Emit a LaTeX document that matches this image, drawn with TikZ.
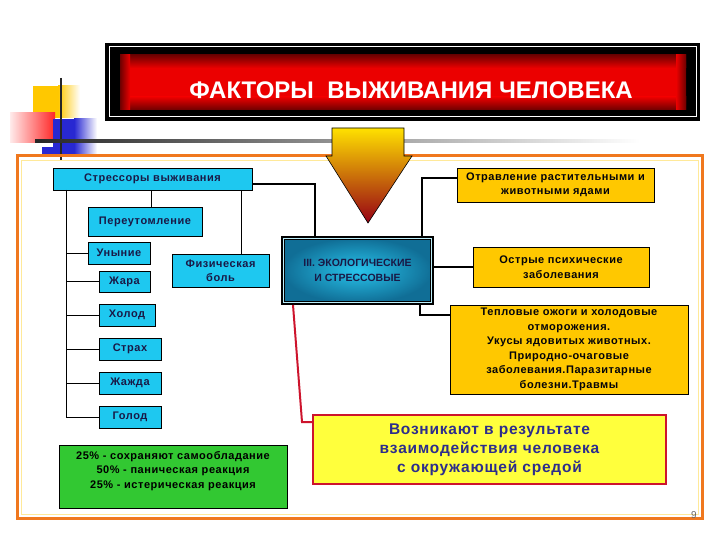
\documentclass[tikz,border=0pt]{standalone}
\usepackage{fontspec}
\setmainfont{Liberation Sans}
\newfontfamily\boxfont[LetterSpace=5]{Liberation Sans}
\usetikzlibrary{calc}
\definecolor{cy}{RGB}{30,200,240}
\definecolor{gold}{RGB}{255,200,0}
\definecolor{navy}{RGB}{25,25,70}
\definecolor{orfr}{RGB}{240,120,30}
\definecolor{grn}{RGB}{50,200,50}
\definecolor{yel}{RGB}{255,255,60}
\definecolor{vozblue}{RGB}{45,45,140}
\definecolor{crim}{RGB}{205,20,45}
\definecolor{bl}{RGB}{40,40,210}
\definecolor{ecoout}{RGB}{16,110,150}
\definecolor{ecoin}{RGB}{40,195,235}
\definecolor{tred}{RGB}{235,0,0}
\definecolor{tdark}{RGB}{110,0,0}
\tikzset{
  cbox/.style={draw=black, line width=0.8pt, fill=cy, inner sep=1pt, align=center,
    font=\boxfont\bfseries\fontsize{11}{14.5}\selectfont, text=navy},
  obox/.style={cbox, fill=gold, text=black!85!navy},
  link/.style={draw=black, line width=1pt},
}
\begin{document}
\begin{tikzpicture}[x=1pt,y=-1pt]
\useasboundingbox (0,0) rectangle (720,540);
\fill[white] (0,0) rectangle (720,540);

% decoration
\fill[gold] (33,86) rectangle (58,118);
\shade[left color=gold, right color=white] (58,86) rectangle (80,118);
\shade[left color=red!8, right color=red!85] (10,113) rectangle (55,143);
\fill[bl] (53,119) rectangle (74,155);
\fill[bl] (42,147) rectangle (60,155);
\shade[left color=bl, right color=white] (74,119) rectangle (97,155);
\draw[line width=1.8pt, black!85] (61,78) -- (61,160);
\shade[left color=black!85, right color=white] (35,139.5) rectangle (640,142.5);

% title
\fill[black] (105,43) rectangle (700,121);
\draw[white, line width=1pt] (109,47) rectangle (696,117);
\fill[tred] (120,55) rectangle (686,110);
\shade[top color=tdark, bottom color=tred] (120,55) rectangle (686,68);
\shade[top color=tred, bottom color=tdark] (120,97) rectangle (686,110);
\shade[left color=tdark, right color=tred] (120,55) rectangle (130,110);
\shade[left color=tred, right color=tdark] (676,55) rectangle (686,110);
\node[text=white, font=\bfseries\fontsize{24}{26}\selectfont] (title) at (411,90) {ФАКТОРЫ\ \ ВЫЖИВАНИЯ ЧЕЛОВЕКА};

% frame
\draw[orfr, line width=3pt] (17,156) rectangle (702,518);
\draw[gold!40, line width=0.6pt] (21,160) rectangle (698,514);

% arrow
\shade[top color={rgb,255:red,255;green,225;blue,0}, middle color={rgb,255:red,255;green,80;blue,10}, bottom color={rgb,255:red,150;green,0;blue,20}, draw=black, line width=0.6pt]
  (332,128) -- (404,128) -- (404,156) -- (412,156) -- (368,223) -- (326,156) -- (332,156) -- cycle;

% left tree
\node[cbox, minimum width=199pt, minimum height=22pt] (str) at (152.5,179) {Стрессоры выживания};
\node[cbox, minimum width=114pt, minimum height=29pt] (per) at (145,221.5) {Переутомление};
\node[cbox, minimum width=62pt, minimum height=22pt] (un) at (119,253) {Уныние};
\node[cbox, minimum width=51pt, minimum height=21pt] (zh) at (124.5,281.5) {Жара};
\node[cbox, minimum width=97pt, minimum height=33pt] (fiz) at (220.5,270.5) {Физическая\\боль};
\node[cbox, minimum width=56pt, minimum height=22pt] (hol) at (127,315) {Холод};
\node[cbox, minimum width=62pt, minimum height=22pt] (strah) at (130,349) {Страх};
\node[cbox, minimum width=62pt, minimum height=22pt] (zhd) at (130,383) {Жажда};
\node[cbox, minimum width=62pt, minimum height=22pt] (gol) at (130,417) {Голод};

\coordinate (tt) at (66,190);
\coordinate (tb) at (66,417);
\draw[link] (tt) -- (tb) -- (gol.west);
\draw[link] (un.west) -- (un.west -| tt);
\draw[link] (zh.west) -- (zh.west -| tt);
\draw[link] (hol.west) -- (hol.west -| tt);
\draw[link] (strah.west) -- (strah.west -| tt);
\draw[link] (zhd.west) -- (zhd.west -| tt);
\draw[link] ([xshift=6pt]per.north) -- ([xshift=6pt]per.north |- str.south);
\draw[link] ([xshift=20.5pt]fiz.north) -- ([xshift=20.5pt]fiz.north |- str.south);

% centre box
\node[draw=black, line width=4pt, inner color=ecoin, outer color=ecoout, minimum width=149pt, minimum height=65pt,
  align=center, text=navy, font=\bfseries\fontsize{10.5}{15}\selectfont] (eco) at (357.5,270.5) {III. ЭКОЛОГИЧЕСКИЕ\\И СТРЕССОВЫЕ};
\draw[white!70!cy, line width=0.5pt] ([shift={(2.3pt,-2.3pt)}]eco.north west) rectangle ([shift={(-2.3pt,2.3pt)}]eco.south east);

\draw[link, line width=1.3pt] ([yshift=-5pt]str.east) -| ([xshift=-42.5pt]eco.north);

% right boxes
\node[obox, minimum width=197pt, minimum height=34pt] (otr) at (555.5,185) {Отравление растительными и\\животными ядами};
\node[obox, minimum width=176pt, minimum height=40pt] (ost) at (561,267) {Острые психические\\заболевания};
\node[obox, minimum width=238pt, minimum height=89pt] (tep) at (569,349.5) {Тепловые ожоги и холодовые\\отморожения.\\Укусы ядовитых животных.\\Природно-очаговые\\заболевания.Паразитарные\\болезни.Травмы};

\draw[link, line width=1.3pt] ([xshift=64.5pt]eco.north) |- ([yshift=7pt]otr.west);
\draw[link, line width=1.3pt] (ost.west) -- (ost.west -| eco.east);
\draw[link, line width=1.3pt] ([xshift=62.5pt]eco.south) |- ([yshift=34.5pt]tep.west);

% bottom boxes
\node[draw=crim, line width=2.5pt, fill=yel, minimum width=353pt, minimum height=69pt, align=center,
  text=vozblue, font=\boxfont\bfseries\fontsize{15.5}{19}\selectfont] (voz) at (489.5,449.5) {Возникают в результате\\взаимодействия человека\\с окружающей средой};
\coordinate (rb) at (302,422);
\draw[crim, line width=2pt] ([xshift=-64.5pt]eco.south) -- (rb) -- (rb -| voz.west);

\node[draw=black, line width=0.8pt, fill=grn, minimum width=228pt, minimum height=63pt] (grbox) at (173,476.5) {};
\node[align=center, text=black, font=\boxfont\bfseries\fontsize{11}{14.5}\selectfont] (grtxt) at (173,471) {25\% - сохраняют самообладание\\50\% - паническая реакция\\25\% - истерическая реакция};

\node[text=black!60, font=\fontsize{10}{10}\selectfont] (pg) at (694,515) {9};
\end{tikzpicture}
\end{document}
